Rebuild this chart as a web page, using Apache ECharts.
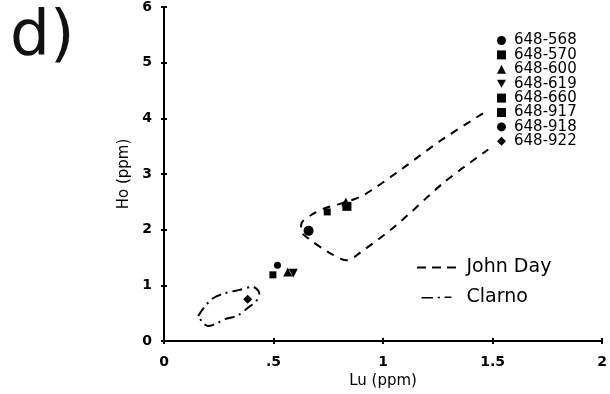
<!DOCTYPE html>
<html>
<head>
<meta charset="utf-8">
<script src="https://cdn.jsdelivr.net/npm/echarts@6/dist/echarts.min.js"></script>
<style>
  html, body { margin: 0; padding: 0; background: #fff; }
  #chart { width: 610px; height: 394px; }
</style>
</head>
<body>
<div id="chart"></div>
<script>
// Lu vs Ho (ppm) for the 648 sample suite, with John Day and Clarno fields
const xTicks = [0, 0.5, 1, 1.5, 2];
const yTicks = [0, 1, 2, 3, 4, 5, 6];

const s568 = [[0.66, 1.98]];
const s570 = [[0.835, 2.42]];
const s600 = [[0.565, 1.24], [0.83, 2.5]];
const s619 = [[0.59, 1.22]];
const s660 = [[0.497, 1.19]];
const s917 = [[0.745, 2.32]];
const s918 = [[0.518, 1.36]];
const s922 = [[0.382, 0.75]];

const johnDay = [
  [1.456, 4.09], [1.259, 3.59], [1.085, 3.09], [0.91, 2.62], [0.80, 2.46],
  [0.737, 2.39], [0.67, 2.26], [0.628, 2.12], [0.625, 1.98], [0.66, 1.84],
  [0.753, 1.59], [0.836, 1.45], [0.896, 1.59], [1.063, 2.09], [1.281, 2.86],
  [1.48, 3.44]
];
const clarno = [
  [0.156, 0.45], [0.186, 0.62], [0.224, 0.77], [0.277, 0.86], [0.345, 0.92],
  [0.405, 0.975], [0.435, 0.86], [0.42, 0.71], [0.39, 0.62], [0.337, 0.46],
  [0.277, 0.39], [0.231, 0.30], [0.201, 0.27], [0.178, 0.33], [0.156, 0.45]
];

const sampleNames = ['648-568', '648-570', '648-600', '648-619', '648-660', '648-917', '648-918', '648-922'];
const sampleData = [s568, s570, s600, s619, s660, s917, s918, s922];
const sampleSymbols = ['circle', 'rect', 'triangle', 'path://M0,0 L10,0 L5,9 Z', 'rect', 'rect', 'circle', 'diamond'];
const sampleSizes = [10, 9, 9, 9, 7, 7, 7, 9];

const fieldNames = ['John Day', 'Clarno'];
// legend swatches: dashed and dash-dot strokes
const fieldIcons = [
  'path://M0,0 H9 V2 H0 Z M15,0 H24 V2 H15 Z M30,0 H39 V2 H30 Z',
  'path://M0,0.3 H15 V2.3 H0 Z M21,0 H24 V2 H21 Z M30,-0.3 H39 V1.7 H30 Z'
];

const FONT = 'DejaVu Sans';
const INK = '#000';

const scatterSeries = sampleNames.map((name, i) => ({
  name: name,
  type: 'scatter',
  data: sampleData[i],
  symbol: sampleSymbols[i],
  symbolSize: sampleSizes[i],
  itemStyle: { color: INK, opacity: 1 },
  z: 5
}));

const chart = echarts.init(document.getElementById('chart'), null, { renderer: 'canvas' });

const tickFmt = v => {
  if (v === 0) return '0';
  return String(v).replace(/^0\./, '.');
};

chart.setOption({
  animation: false,
  backgroundColor: '#fff',
  grid: { left: 164, right: 7, top: 7, bottom: 48 },
  graphic: [{
    type: 'text',
    left: 10,
    top: 6,
    style: { text: 'd)', font: 'normal 63px "DejaVu Sans"', fill: '#111' }
  }],
  legend: [{
    data: sampleNames.map(n => ({ name: n, itemStyle: { color: INK, opacity: 1 } })),
    orient: 'vertical',
    left: 497,
    top: 33,
    itemWidth: 9,
    itemHeight: 9,
    itemGap: -0.6,
    textStyle: { fontFamily: FONT, fontSize: 15, color: INK, lineHeight: 14, padding: [0, 0, 0, 3] },
    padding: 0
  }, {
    data: fieldNames.map((n, i) => ({ name: n, icon: fieldIcons[i], itemStyle: { color: INK } })),
    orient: 'vertical',
    left: 417,
    top: 258,
    itemWidth: 40,
    itemHeight: 2,
    itemGap: 11,
    textStyle: { fontFamily: FONT, fontSize: 19, color: INK, padding: [0, 0, 0, 5], lineHeight: 19 },
    padding: 0
  }],
  xAxis: [{
    type: 'value', min: 0, max: 2, interval: 0.5,
    name: 'Lu (ppm)', nameLocation: 'middle', nameGap: 25,
    nameTextStyle: { fontFamily: FONT, fontSize: 15, color: INK },
    axisLine: { lineStyle: { color: INK, width: 2 } },
    axisTick: { inside: true, length: 3, lineStyle: { color: INK, width: 2 } },
    axisLabel: { formatter: tickFmt, fontFamily: FONT, fontSize: 14, fontWeight: 'bold', color: INK, margin: 14 },
    splitLine: { show: false }
  }, {
    type: 'value', min: 0, max: 2, interval: 0.5, position: 'top',
    axisLine: { lineStyle: { color: INK, width: 2 } },
    axisTick: { inside: true, length: 3, lineStyle: { color: INK, width: 2 } },
    axisLabel: { show: false },
    splitLine: { show: false }
  }],
  yAxis: [{
    type: 'value', min: 0, max: 6, interval: 1,
    name: 'Ho (ppm)', nameLocation: 'middle', nameGap: 22,
    nameTextStyle: { fontFamily: FONT, fontSize: 15, color: INK },
    axisLine: { show: true, lineStyle: { color: INK, width: 2 } },
    axisTick: { show: true, inside: true, length: 3, lineStyle: { color: INK, width: 2 } },
    axisLabel: { fontFamily: FONT, fontSize: 14, fontWeight: 'bold', color: INK, margin: 12 },
    splitLine: { show: false }
  }, {
    type: 'value', min: 0, max: 6, interval: 1, position: 'right',
    axisLine: { show: true, lineStyle: { color: INK, width: 2 } },
    axisTick: { show: true, inside: true, length: 3, lineStyle: { color: INK, width: 2 } },
    axisLabel: { show: false },
    splitLine: { show: false }
  }],
  series: [{
    name: 'John Day',
    type: 'line',
    data: johnDay,
    smooth: 0.3,
    symbol: 'none',
    lineStyle: { color: INK, width: 2, type: [8, 7] },
    itemStyle: { color: INK },
    z: 3
  }, {
    name: 'Clarno',
    type: 'line',
    data: clarno,
    smooth: 0.3,
    symbol: 'none',
    lineStyle: { color: INK, width: 2, type: [10, 5, 2, 5] },
    itemStyle: { color: INK },
    z: 3
  }].concat(scatterSeries)
});
</script>
</body>
</html>
